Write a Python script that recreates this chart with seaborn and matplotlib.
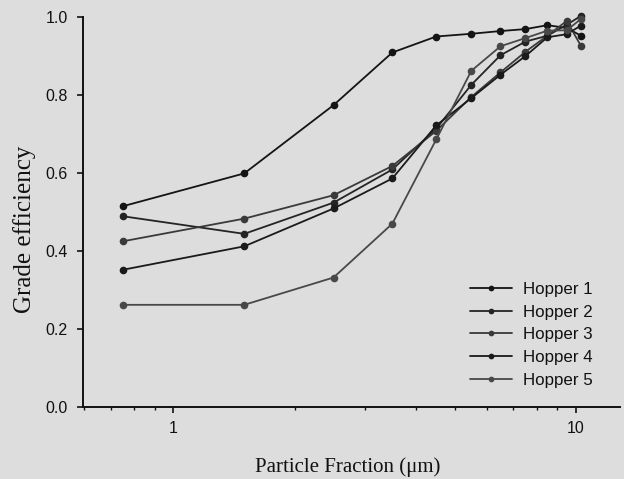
import numpy as np
import pandas as pd
import matplotlib
matplotlib.use("Agg")
import matplotlib.pyplot as plt
import seaborn as sns
from matplotlib.ticker import FixedLocator, NullFormatter, FixedFormatter

# ---- data ----
particle_size = [0.75, 1.5, 2.5, 3.5, 4.5, 5.5, 6.5, 7.5, 8.5, 9.5, 10.3]
hopper_1 = [0.515, 0.599, 0.774, 0.909, 0.950, 0.957, 0.964, 0.969, 0.979, 0.972, 0.952]
hopper_2 = [0.489, 0.444, 0.524, 0.609, 0.714, 0.826, 0.902, 0.937, 0.952, 0.980, 1.003]
hopper_3 = [0.425, 0.483, 0.543, 0.618, 0.708, 0.795, 0.858, 0.911, 0.952, 0.990, 0.926]
hopper_4 = [0.352, 0.412, 0.509, 0.586, 0.722, 0.792, 0.852, 0.900, 0.948, 0.956, 0.978]
hopper_5 = [0.262, 0.262, 0.332, 0.470, 0.686, 0.862, 0.925, 0.946, 0.965, 0.966, 0.995]
series_names = ["Hopper 1", "Hopper 2", "Hopper 3", "Hopper 4", "Hopper 5"]
y_ticks = [0.0, 0.2, 0.4, 0.6, 0.8, 1.0]
x_major = [1, 10]
x_major_labels = ["1", "10"]
x_minor = [0.6, 0.7, 0.8, 0.9, 2, 3, 4, 5, 6, 7, 8, 9]

rows = []
for name, vals in zip(series_names, [hopper_1, hopper_2, hopper_3, hopper_4, hopper_5]):
    for x, y in zip(particle_size, vals):
        rows.append({"size": x, "eff": y, "Hopper": name})
df = pd.DataFrame(rows)

sns.set_style("white")
plt.rcParams["font.family"] = ["Liberation Sans", "DejaVu Sans"]

bg = "#dddddd"
fig = plt.figure(figsize=(6.24, 4.79), dpi=100, facecolor=bg)
ax = fig.add_axes([0.133, 0.1503, 0.861, 0.8142])
ax.set_facecolor(bg)

palette = ["#141414", "#242424", "#3a3a3a", "#1a1a1a", "#484848"]
sns.lineplot(data=df, x="size", y="eff", hue="Hopper", palette=palette,
             marker="o", markersize=5.5, markeredgewidth=0, linewidth=1.3,
             ax=ax, legend=True, clip_on=False)

ax.set_xscale("log")
ax.set_xlim(0.596, 12.9)
ax.set_ylim(0, 1.0)

ax.xaxis.set_major_locator(FixedLocator(x_major))
ax.xaxis.set_major_formatter(FixedFormatter(x_major_labels))
ax.xaxis.set_minor_locator(FixedLocator(x_minor))
ax.xaxis.set_minor_formatter(NullFormatter())
ax.set_yticks(y_ticks)
ax.set_yticklabels([f"{v:.1f}" for v in y_ticks])

for side in ["top", "right"]:
    ax.spines[side].set_visible(False)
for side in ["left", "bottom"]:
    ax.spines[side].set_color("#111111")
    ax.spines[side].set_linewidth(1.4)

ax.tick_params(axis="both", which="major", direction="out", length=4.3, width=1.2,
               color="#111111", labelsize=11.5, labelcolor="#111111",
               bottom=True, left=True)
ax.tick_params(axis="y", which="major", pad=6.5)
ax.tick_params(axis="x", which="major", pad=6)
ax.tick_params(axis="x", which="minor", direction="out", length=2.5, width=1.0,
               color="#111111", bottom=True)

serif = ["Liberation Serif", "DejaVu Serif"]
ax.set_xlabel("Particle Fraction (\u03bcm)", family=serif, fontsize=15,
              color="#111111")
ax.xaxis.set_label_coords(0.4935, -0.128)
ax.set_ylabel("Grade efficiency", family=serif, fontsize=18,
              color="#111111")
ax.yaxis.set_label_coords(-0.087, 0.456)

leg = ax.legend(loc="upper left", bbox_to_anchor=(470 / 624, 1 - 282 / 479),
                bbox_transform=fig.transFigure, frameon=False, borderpad=0,
                fontsize=12.2, handlelength=2.5, labelspacing=0.45,
                handletextpad=0.6, markerscale=0.75, borderaxespad=0)
for t in leg.get_texts():
    t.set_color("#111111")

fig.savefig("out.png", dpi=100, facecolor=bg)
